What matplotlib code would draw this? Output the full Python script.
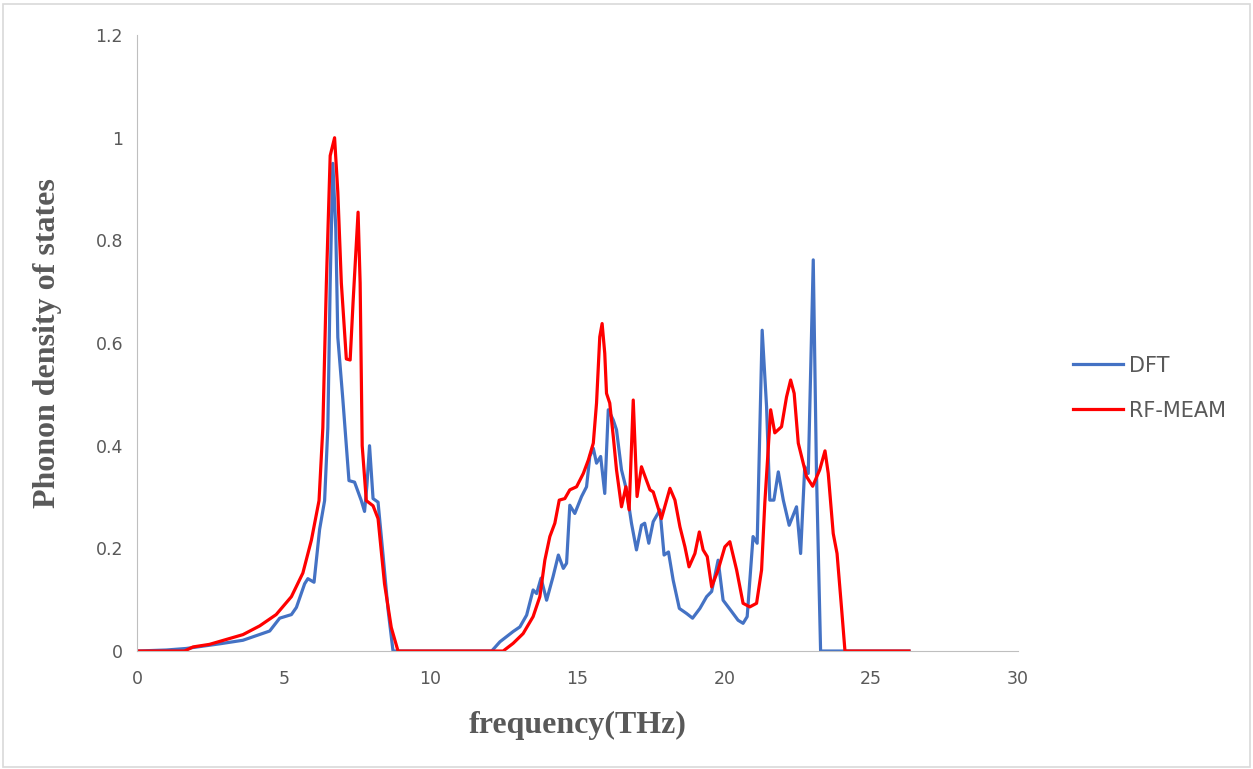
import numpy as np
import matplotlib.pyplot as plt
from matplotlib.patches import Rectangle

# phonon DOS
dft_freq = [0, 1.0, 1.68, 2.81, 3.61, 4.52, 4.86, 5.26, 5.43, 5.71, 5.82, 6.03, 6.22, 6.39,
            6.50, 6.58, 6.67, 6.77, 6.84, 7.01, 7.13, 7.22, 7.41, 7.64, 7.75, 7.83, 7.92,
            8.04, 8.21, 8.38, 8.55, 8.72, 12.08, 12.36, 12.81, 13.04, 13.27, 13.49, 13.61,
            13.76, 13.95, 14.17, 14.35, 14.52, 14.63, 14.74, 14.91, 15.14, 15.31, 15.42,
            15.54, 15.65, 15.79, 15.93, 16.05, 16.22, 16.33, 16.50, 16.67, 16.84, 17.01,
            17.18, 17.29, 17.43, 17.58, 17.81, 17.95, 18.10, 18.26, 18.47, 18.72, 18.92,
            19.17, 19.40, 19.57, 19.79, 19.96, 20.25, 20.47, 20.64, 20.78, 20.98, 21.12,
            21.29, 21.44, 21.55, 21.69, 21.84, 22.01, 22.21, 22.46, 22.60, 22.74, 22.86,
            23.03, 23.14, 23.28, 26.29]
dft_dos = [0, 0.002, 0.005, 0.014, 0.021, 0.039, 0.064, 0.071, 0.085, 0.131, 0.141, 0.134,
           0.237, 0.293, 0.435, 0.717, 0.95, 0.823, 0.611, 0.491, 0.40, 0.332, 0.329, 0.293,
           0.272, 0.322, 0.40, 0.297, 0.290, 0.187, 0.081, 0, 0, 0.018, 0.038, 0.047, 0.070,
           0.119, 0.112, 0.142, 0.099, 0.145, 0.187, 0.161, 0.171, 0.284, 0.268, 0.301,
           0.320, 0.379, 0.395, 0.366, 0.379, 0.307, 0.470, 0.450, 0.431, 0.353, 0.314,
           0.249, 0.197, 0.245, 0.249, 0.210, 0.252, 0.275, 0.187, 0.193, 0.138, 0.083,
           0.073, 0.064, 0.083, 0.106, 0.116, 0.177, 0.099, 0.077, 0.060, 0.054, 0.067,
           0.223, 0.210, 0.625, 0.476, 0.294, 0.294, 0.349, 0.294, 0.245, 0.281, 0.190,
           0.359, 0.346, 0.762, 0.346, 0, 0]

meam_freq = [0, 1.62, 1.91, 2.47, 3.61, 4.18, 4.74, 5.26, 5.65, 5.94, 6.20, 6.33, 6.45, 6.58,
             6.73, 6.84, 6.96, 7.13, 7.26, 7.36, 7.53, 7.60, 7.67, 7.81, 8.04, 8.21, 8.43,
             8.66, 8.89, 12.47, 12.81, 13.15, 13.49, 13.72, 13.89, 14.06, 14.23, 14.38,
             14.57, 14.74, 14.97, 15.20, 15.37, 15.54, 15.65, 15.76, 15.84, 15.93, 15.99,
             16.10, 16.22, 16.33, 16.50, 16.65, 16.76, 16.90, 17.03, 17.18, 17.47, 17.58,
             17.86, 18.15, 18.32, 18.49, 18.66, 18.80, 19.00, 19.15, 19.28, 19.42, 19.57,
             19.79, 20.02, 20.19, 20.42, 20.64, 20.87, 21.10, 21.27, 21.38, 21.58, 21.72,
             21.95, 22.12, 22.26, 22.38, 22.52, 22.80, 23.01, 23.25, 23.43, 23.54, 23.71,
             23.84, 23.99, 24.11, 26.29]
meam_dos = [0, 0, 0.008, 0.013, 0.032, 0.049, 0.071, 0.106, 0.152, 0.216, 0.293, 0.435,
            0.717, 0.965, 1.0, 0.894, 0.717, 0.569, 0.567, 0.68, 0.855, 0.717, 0.40, 0.293,
            0.283, 0.258, 0.131, 0.046, 0, 0, 0.015, 0.034, 0.067, 0.106, 0.177, 0.223,
            0.249, 0.294, 0.297, 0.314, 0.320, 0.346, 0.372, 0.405, 0.483, 0.612, 0.638,
            0.580, 0.502, 0.483, 0.418, 0.353, 0.281, 0.320, 0.275, 0.489, 0.301, 0.359,
            0.314, 0.310, 0.258, 0.317, 0.294, 0.242, 0.203, 0.164, 0.190, 0.232, 0.197,
            0.184, 0.125, 0.158, 0.203, 0.213, 0.158, 0.093, 0.086, 0.093, 0.158, 0.288,
            0.470, 0.425, 0.437, 0.495, 0.528, 0.502, 0.405, 0.340, 0.321, 0.353, 0.390,
            0.346, 0.229, 0.190, 0.086, 0, 0]

x_ticks = [0, 5, 10, 15, 20, 25, 30]
y_ticks = [0, 0.2, 0.4, 0.6, 0.8, 1.0, 1.2]
y_tick_labels = ["0", "0.2", "0.4", "0.6", "0.8", "1", "1.2"]

fig = plt.figure(figsize=(12.53, 7.69), dpi=100)
fig.patches.append(Rectangle((0.002, 0.002), 0.996, 0.993, transform=fig.transFigure,
                             fill=False, edgecolor="#d9d9d9", linewidth=1.2))
ax = fig.add_axes([0.1093, 0.1534, 0.7031, 0.801])

ax.plot(dft_freq, dft_dos, color="#4472C4", lw=2.3, label="DFT", solid_joinstyle="round")
ax.plot(meam_freq, meam_dos, color="#FF0000", lw=2.3, label="RF-MEAM", solid_joinstyle="round")

ax.set_xlim(0, 30)
ax.set_ylim(0, 1.2)
ax.set_xticks(x_ticks)
ax.set_yticks(y_ticks)
ax.set_yticklabels(y_tick_labels)
for s in ["top", "right"]:
    ax.spines[s].set_visible(False)
ax.spines["left"].set_color("#bfbfbf")
ax.spines["bottom"].set_color("#bfbfbf")
ax.tick_params(length=0, labelsize=12.5, colors="#595959", pad=10)
ax.tick_params(axis="x", pad=14)

lab = dict(family="Liberation Serif", fontweight="bold", fontsize=23, color="#595959")
ax.set_xlabel("frequency(THz)", labelpad=16, **lab)
ax.set_ylabel("Phonon density of states", labelpad=24, **lab)

ax.legend(loc="center left", bbox_to_anchor=(1.041, 0.427), frameon=False, fontsize=15,
          labelcolor="#595959", handlelength=2.4, labelspacing=1.2, handletextpad=0.3)

fig.savefig("out.png", dpi=100)
